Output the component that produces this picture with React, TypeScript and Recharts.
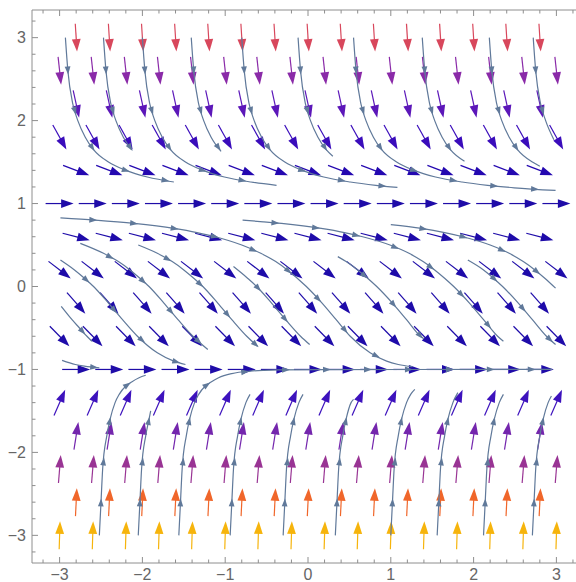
import { ComposedChart, Line, Scatter, XAxis, YAxis } from "recharts";

// slope field grid: rows (bottom to top), slope dy/dx read per row, staggered columns
const ROW_Y = [-3, -2.6, -2.2, -1.8, -1.4, -1, -0.6, -0.2, 0.2, 0.6, 1, 1.4, 1.8, 2.2, 2.6, 3];
const ROW_SLOPE = [32, 20.7, 12.3, 6.3, 2.3, 0, -1.02, -1.15, -0.77, -0.26, 0, -0.38, -1.8, -4.6, -9.2, -16];
const COLS_EVEN = [-3, -2.6, -2.2, -1.8, -1.4, -1, -0.6, -0.2, 0.2, 0.6, 1, 1.4, 1.8, 2.2, 2.6, 3];
const COLS_ODD = [-2.8, -2.4, -2, -1.6, -1.2, -0.8, -0.4, 0, 0.4, 0.8, 1.2, 1.6, 2, 2.4, 2.8];

const TICKS = [
  -3.2, -3, -2.8, -2.6, -2.4, -2.2, -2, -1.8, -1.6, -1.4, -1.2, -1, -0.8, -0.6, -0.4, -0.2, 0,
  0.2, 0.4, 0.6, 0.8, 1, 1.2, 1.4, 1.6, 1.8, 2, 2.2, 2.4, 2.6, 2.8, 3, 3.2,
];
const TICK_LABELS = [-3, -2, -1, 0, 1, 2, 3];

// stream lines above y = 1
const S1 = [[-2.93, 3], [-2.9, 2.6], [-2.84, 2.2], [-2.78, 2.0], [-2.69, 1.8], [-2.59, 1.65], [-2.41, 1.5], [-2.2, 1.4], [-1.94, 1.32], [-1.62, 1.26]];
const S2 = [[-2.47, 3], [-2.44, 2.6], [-2.38, 2.2], [-2.32, 2.0], [-2.23, 1.8], [-2.13, 1.65]];
const S3 = [[-2.0, 3], [-1.97, 2.6], [-1.91, 2.2], [-1.85, 2.0], [-1.76, 1.8], [-1.66, 1.65], [-1.48, 1.5], [-1.27, 1.4], [-1.01, 1.32], [-0.69, 1.26], [-0.38, 1.22]];
const S4 = [[-1.41, 3], [-1.38, 2.6], [-1.32, 2.2], [-1.26, 2.0], [-1.17, 1.8], [-1.05, 1.63]];
const S5 = [[-0.8, 3], [-0.77, 2.6], [-0.71, 2.2], [-0.65, 2.0], [-0.56, 1.8], [-0.46, 1.65], [-0.28, 1.5], [-0.07, 1.4], [0.19, 1.32], [0.51, 1.26], [0.82, 1.22], [1.08, 1.195]];
const S6 = [[-0.12, 3], [-0.09, 2.6], [-0.03, 2.2], [0.03, 2.0], [0.12, 1.8], [0.22, 1.65], [0.3, 1.57]];
const S7 = [[0.55, 3], [0.58, 2.6], [0.64, 2.2], [0.7, 2.0], [0.79, 1.8], [0.89, 1.65], [1.07, 1.5], [1.28, 1.4], [1.54, 1.32], [1.86, 1.26], [2.17, 1.22], [2.49, 1.19], [2.99, 1.158]];
const S8 = [[1.38, 3], [1.41, 2.6], [1.47, 2.2], [1.53, 2.0], [1.62, 1.8], [1.72, 1.65], [1.89, 1.51]];
const S9 = [[2.19, 3], [2.22, 2.6], [2.28, 2.2], [2.34, 2.0], [2.43, 1.8], [2.53, 1.65], [2.71, 1.5], [2.8, 1.45]];
const S10 = [[2.72, 3], [2.75, 2.6], [2.81, 2.2], [2.87, 2.0], [2.97, 1.77]];

// stream lines between y = -1 and y = 1
const M1 = [[-2.99, 0.827], [-2.57, 0.8], [-2.1, 0.76], [-1.62, 0.7], [-1.34, 0.65], [-1.12, 0.6], [-0.8, 0.5], [-0.57, 0.4], [-0.39, 0.3], [-0.25, 0.2], [-0.02, 0], [0.17, -0.2], [0.34, -0.4], [0.51, -0.6], [0.75, -0.8], [0.95, -0.9], [1.09, -0.94], [1.26, -0.967]];
const M2 = [[-2.75, 0.52], [-2.47, 0.4], [-2.29, 0.3], [-2.15, 0.2], [-2.03, 0.1], [-1.92, 0], [-1.74, -0.2], [-1.57, -0.4], [-1.39, -0.6], [-1.21, -0.76]];
const M3 = [[-2.99, 0.32], [-2.82, 0.2], [-2.7, 0.1], [-2.59, 0], [-2.41, -0.2], [-2.24, -0.4], [-2.06, -0.6], [-1.82, -0.8], [-1.62, -0.9], [-1.48, -0.94]];
const M4 = [[-2.98, -0.24], [-2.85, -0.4], [-2.76, -0.5], [-2.67, -0.6], [-2.61, -0.66]];
const M5 = [[-2.97, -0.89], [-2.81, -0.94], [-2.7, -0.96], [-2.52, -0.98]];
const M6 = [[-2.05, 0.5], [-1.82, 0.4], [-1.64, 0.3], [-1.5, 0.2], [-1.38, 0.1], [-1.27, 0], [-1.09, -0.2], [-0.92, -0.4], [-0.74, -0.6], [-0.61, -0.72]];
const M7 = [[-0.9, 0.24], [-0.73, 0.1], [-0.62, 0], [-0.44, -0.2], [-0.27, -0.4], [-0.09, -0.6], [0.02, -0.7]];
const M8 = [[1.0, 0.745], [1.37, 0.7], [1.65, 0.65], [1.87, 0.6], [2.2, 0.5], [2.43, 0.4], [2.6, 0.3], [2.74, 0.2], [2.86, 0.1], [2.99, -0.02]];
const M9 = [[-0.79, 0.8], [-0.54, 0.78], [-0.32, 0.76], [0.16, 0.7], [0.44, 0.65], [0.66, 0.6], [0.99, 0.5], [1.22, 0.4], [1.39, 0.3], [1.53, 0.2], [1.65, 0.1], [1.76, 0], [1.95, -0.2], [2.12, -0.4], [2.29, -0.6], [2.36, -0.66]];
const M10 = [[1.93, 0.32], [2.12, 0.2], [2.24, 0.1], [2.35, 0], [2.54, -0.2], [2.71, -0.4], [2.88, -0.6], [2.99, -0.7]];
const M11 = [[0.36, 0.36], [0.46, 0.3], [0.6, 0.2], [0.72, 0.1], [0.83, 0], [1.02, -0.2], [1.19, -0.4], [1.36, -0.6], [1.4, -0.63]];

// stream lines below y = -1
const B1 = [[-2.52, -3], [-2.5, -2.6], [-2.48, -2.2], [-2.43, -1.8], [-2.39, -1.6], [-2.33, -1.4], [-2.28, -1.3], [-2.2, -1.2], [-2.13, -1.15], [-2.04, -1.1], [-1.96, -1.07]];
const B2 = [[-2.05, -3], [-2.03, -2.6], [-2.01, -2.2], [-1.96, -1.8], [-1.92, -1.6], [-1.9, -1.5]];
const B3 = [[-1.56, -3], [-1.54, -2.6], [-1.52, -2.2], [-1.47, -1.8], [-1.43, -1.6], [-1.37, -1.4], [-1.32, -1.3], [-1.24, -1.2], [-1.17, -1.15], [-1.08, -1.1], [-0.92, -1.05], [-0.7, -1.02], [-0.53, -1.01], [-0.36, -1.005], [0.2, -1.001], [2.95, -1.0]];
const B4 = [[-0.94, -3], [-0.92, -2.6], [-0.9, -2.2], [-0.85, -1.8], [-0.81, -1.6], [-0.75, -1.4], [-0.7, -1.3]];
const B5 = [[-0.3, -3], [-0.28, -2.6], [-0.26, -2.2], [-0.21, -1.8], [-0.17, -1.6], [-0.11, -1.4], [-0.06, -1.3]];
const B6 = [[0.33, -3], [0.35, -2.6], [0.37, -2.2], [0.42, -1.8], [0.46, -1.6], [0.52, -1.4], [0.55, -1.36]];
const B7 = [[1.0, -3], [1.02, -2.6], [1.04, -2.2], [1.09, -1.8], [1.13, -1.6], [1.19, -1.4], [1.24, -1.3], [1.29, -1.24]];
const B8 = [[1.56, -3], [1.58, -2.6], [1.6, -2.2], [1.65, -1.8], [1.69, -1.6], [1.75, -1.4], [1.81, -1.28]];
const B9 = [[2.12, -3], [2.14, -2.6], [2.16, -2.2], [2.21, -1.8], [2.25, -1.6], [2.31, -1.4], [2.36, -1.3]];
const B10 = [[2.71, -3], [2.73, -2.6], [2.75, -2.2], [2.8, -1.8], [2.84, -1.6], [2.9, -1.4], [2.94, -1.32]];

const STREAMS = [S1, S2, S3, S4, S5, S6, S7, S8, S9, S10, M1, M2, M3, M4, M5, M6, M7, M8, M9, M10, M11, B1, B2, B3, B4, B5, B6, B7, B8, B9, B10];

// styles
const ROW_COLORS = [
  "#f6b40c", "#f0662a", "#993494", "#7426ad", "#3d12bd", "#1f0ca8", "#1e0ba9", "#1e0ba9",
  "#1e0ba9", "#1e0ba9", "#1f0ca8", "#2408b0", "#3a0cbb", "#5c17b9", "#8a2aa8", "#d8475c",
];
const STREAM_COLOR = "#60799a";
const FRAME = "#8e8e8e";
const LABEL = "#666666";
const FONT = "'Liberation Sans', Arial, sans-serif";
const DOMAIN: [number, number] = [-10 / 3, 10 / 3];
const PX = 82.9; // approx pixels per unit, used for arrow spacing along streams
const HEAD_FIRST = 33;
const HEAD_GAP = 41;

const vectors = ROW_Y.flatMap((y, i) =>
  (i % 2 === 0 ? COLS_EVEN : COLS_ODD).map((x) => ({ x, y, s: ROW_SLOPE[i], row: i }))
);

function headsAlong(pts: number[][]) {
  const out: { x: number; y: number; dx: number; dy: number }[] = [];
  let acc = 0;
  let next = HEAD_FIRST;
  for (let i = 1; i < pts.length; i++) {
    const [x0, y0] = pts[i - 1];
    const [x1, y1] = pts[i];
    const dx = (x1 - x0) * PX;
    const dy = (y1 - y0) * PX;
    const seg = Math.hypot(dx, dy);
    while (seg > 0 && acc + seg >= next) {
      const t = (next - acc) / seg;
      out.push({ x: x0 + (x1 - x0) * t, y: y0 + (y1 - y0) * t, dx, dy });
      next += HEAD_GAP;
    }
    acc += seg;
  }
  return out;
}

const streamHeads = STREAMS.flatMap(headsAlong);

const isLabel = (v: number) => TICK_LABELS.some((t) => Math.abs(t - v) < 1e-6);
const fmt = (v: number) => (v < 0 ? "\u2212" + Math.abs(Math.round(v)) : String(Math.round(v)));

function VectorArrow(props: any) {
  const { cx, cy, payload } = props;
  if (cx == null || cy == null) return <g />;
  const s = payload.s;
  const n = Math.hypot(1, s);
  const ux = 1 / n;
  const uy = -s / n;
  const L = 28;
  const HL = 12.5;
  const HW = 4.4;
  const tx = cx + (ux * L) / 2;
  const ty = cy + (uy * L) / 2;
  const bx = cx - (ux * L) / 2;
  const by = cy - (uy * L) / 2;
  const hx = tx - ux * HL;
  const hy = ty - uy * HL;
  const c = ROW_COLORS[payload.row];
  return (
    <g>
      <line x1={bx} y1={by} x2={hx + ux * 2} y2={hy + uy * 2} stroke={c} strokeWidth={1.2} />
      <polygon
        points={`${tx},${ty} ${hx - uy * HW},${hy + ux * HW} ${hx + uy * HW},${hy - ux * HW}`}
        fill={c}
      />
    </g>
  );
}

function StreamHead(props: any) {
  const { cx, cy, payload } = props;
  if (cx == null || cy == null) return <g />;
  const n = Math.hypot(payload.dx, payload.dy) || 1;
  const ux = payload.dx / n;
  const uy = -payload.dy / n;
  const HL = 8;
  const HW = 2.9;
  const tx = cx + ux * HL * 0.5;
  const ty = cy + uy * HL * 0.5;
  const hx = cx - ux * HL * 0.5;
  const hy = cy - uy * HL * 0.5;
  return (
    <polygon
      points={`${tx},${ty} ${hx - uy * HW},${hy + ux * HW} ${hx + uy * HW},${hy - ux * HW}`}
      fill={STREAM_COLOR}
    />
  );
}

function BottomTick(props: any) {
  const { x, y, payload } = props;
  const v = payload.value;
  const lab = isLabel(v);
  return (
    <g>
      <line x1={x} x2={x} y1={y} y2={y - (lab ? 6 : 3.5)} stroke={FRAME} />
      {lab && (
        <text x={x} y={y + 17} textAnchor="middle" fill={LABEL} fontSize={16} fontFamily={FONT}>
          {fmt(v)}
        </text>
      )}
    </g>
  );
}

function TopTick(props: any) {
  const { x, y, payload } = props;
  const lab = isLabel(payload.value);
  return <line x1={x} x2={x} y1={y} y2={y + (lab ? 6 : 3.5)} stroke={FRAME} />;
}

function LeftTick(props: any) {
  const { x, y, payload } = props;
  const v = payload.value;
  const lab = isLabel(v);
  return (
    <g>
      <line x1={x} x2={x + (lab ? 6 : 3.5)} y1={y} y2={y} stroke={FRAME} />
      {lab && (
        <text x={x - 6} y={y + 5.6} textAnchor="end" fill={LABEL} fontSize={16} fontFamily={FONT}>
          {fmt(v)}
        </text>
      )}
    </g>
  );
}

function RightTick(props: any) {
  const { x, y, payload } = props;
  const lab = isLabel(payload.value);
  return <line x1={x} x2={x - (lab ? 6 : 3.5)} y1={y} y2={y} stroke={FRAME} />;
}

export default function App() {
  return (
    <div
      style={{
        position: "fixed",
        left: 0,
        top: 0,
        width: 576,
        height: 582,
        overflow: "hidden",
        background: "#ffffff",
      }}
    >
      <div style={{ position: "absolute", left: 8, top: 8 }}>
        <ComposedChart width={577} height={575} margin={{ top: 1, right: 0, bottom: 0, left: 0 }}>
          <XAxis
            type="number"
            dataKey="x"
            domain={DOMAIN}
            allowDataOverflow
            ticks={TICKS}
            interval={0}
            tickLine={false}
            tickSize={0}
            tickMargin={0}
            height={20}
            axisLine={{ stroke: FRAME }}
            tick={BottomTick}
          />
          <XAxis
            xAxisId="top"
            orientation="top"
            type="number"
            dataKey="x"
            domain={DOMAIN}
            allowDataOverflow
            ticks={TICKS}
            interval={0}
            tickLine={false}
            tickSize={0}
            tickMargin={0}
            height={1}
            axisLine={{ stroke: FRAME }}
            tick={TopTick}
          />
          <YAxis
            type="number"
            dataKey="y"
            domain={DOMAIN}
            allowDataOverflow
            ticks={TICKS}
            interval={0}
            tickLine={false}
            tickSize={0}
            tickMargin={0}
            width={24}
            axisLine={{ stroke: FRAME }}
            tick={LeftTick}
          />
          <YAxis
            yAxisId="right"
            orientation="right"
            type="number"
            dataKey="y"
            domain={DOMAIN}
            allowDataOverflow
            ticks={TICKS}
            interval={0}
            tickLine={false}
            tickSize={0}
            tickMargin={0}
            width={1}
            axisLine={{ stroke: FRAME }}
            tick={RightTick}
          />
          <Scatter data={vectors} dataKey="y" shape={VectorArrow} isAnimationActive={false} />
          {STREAMS.map((pts, i) => (
            <Line
              key={i}
              data={pts.map(([x, y]) => ({ x, y }))}
              dataKey="y"
              type="monotone"
              stroke={STREAM_COLOR}
              strokeWidth={1.2}
              dot={false}
              activeDot={false}
              legendType="none"
              isAnimationActive={false}
              zIndex={700}
            />
          ))}
          <Scatter data={streamHeads} dataKey="y" shape={StreamHead} isAnimationActive={false} zIndex={800} />
        </ComposedChart>
      </div>
    </div>
  );
}
